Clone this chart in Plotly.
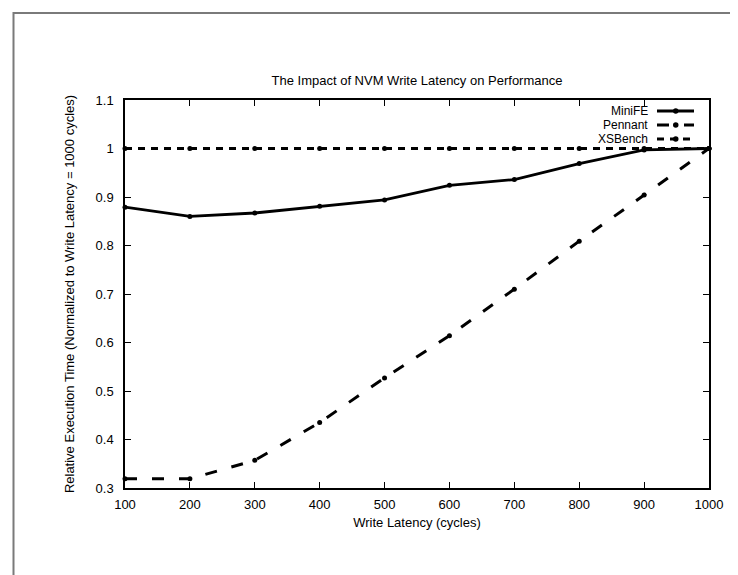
import plotly.graph_objects as go

# ---- data ----
latency = [100, 200, 300, 400, 500, 600, 700, 800, 900, 1000]
minife = [0.879, 0.860, 0.867, 0.881, 0.894, 0.924, 0.936, 0.969, 0.997, 1.000]
pennant = [0.319, 0.319, 0.357, 0.435, 0.527, 0.614, 0.710, 0.809, 0.904, 1.000]
xsbench = [1.000, 1.000, 1.000, 1.000, 1.000, 1.000, 1.000, 1.000, 1.000, 1.000]
series_names = ["MiniFE", "Pennant", "XSBench"]
y_ticks = [0.3, 0.4, 0.5, 0.6, 0.7, 0.8, 0.9, 1.0, 1.1]
y_ticktext = ["0.3", "0.4", "0.5", "0.6", "0.7", "0.8", "0.9", "1", "1.1"]
x_ticktext = [str(v) for v in latency]

FONT = "Liberation Sans, Arial, Helvetica, sans-serif"
FS = 13
W, H = 738, 575
L, R, T, B = 117, 37, 92, 95
PW, PH = W - L - R, H - T - B

dashes = ["solid", "12px,15px", "7px,6px"]
widths = [2.8, 3.0, 3.0]
series = [minife, pennant, xsbench]

fig = go.Figure()
for name, vals, dash, w in zip(series_names, series, dashes, widths):
    fig.add_trace(go.Scatter(
        x=latency, y=vals, name=name, mode="lines+markers",
        line=dict(color="black", width=w, dash=dash),
        marker=dict(color="black", size=5, symbol="circle"),
        showlegend=False, cliponaxis=False,
    ))

def px_x(p):
    return (p - L) / PW

def px_y(p):
    return (H - B - p) / PH

shapes = []
annotations = []
# outer frame (gnuplot canvas border)
shapes.append(dict(type="rect", xref="paper", yref="paper",
                   x0=px_x(5.5), x1=px_x(W + 20), y0=px_y(H + 20), y1=px_y(5),
                   line=dict(color="#7a7a7a", width=2), layer="below"))

# custom legend (text left, sample right) like gnuplot
leg_y = [103, 117, 131]
for name, yy, dash, w in zip(series_names, leg_y, dashes, widths):
    annotations.append(dict(text=name, xref="paper", yref="paper",
                            x=px_x(641), y=px_y(yy), xanchor="right", yanchor="middle",
                            height=12, borderpad=0,
                            showarrow=False, font=dict(family=FONT, size=12, color="black")))
    shapes.append(dict(type="line", xref="paper", yref="paper",
                       x0=px_x(649), x1=px_x(686), y0=px_y(yy), y1=px_y(yy),
                       line=dict(color="black", width=w, dash=dash)))
    shapes.append(dict(type="circle", xref="paper", yref="paper",
                       x0=px_x(665), x1=px_x(670.5), y0=px_y(yy + 2.75), y1=px_y(yy - 2.75),
                       fillcolor="black", line=dict(color="black", width=0)))

fig.update_layout(
    width=W, height=H, autosize=False,
    margin=dict(l=L, r=R, t=T, b=B),
    paper_bgcolor="white", plot_bgcolor="white",
    font=dict(family=FONT, size=FS, color="black"),
    title=dict(text="The Impact of NVM Write Latency on Performance",
               x=(L + PW / 2) / W, xanchor="center",
               y=1 - 72 / H, yanchor="middle", yref="container",
               font=dict(family=FONT, size=FS, color="black")),
    shapes=shapes, annotations=annotations,
    xaxis=dict(range=[100, 1000], tickvals=latency, ticktext=x_ticktext,
               ticks="inside", ticklen=6, tickwidth=1, tickcolor="black",
               showline=True, linecolor="black", linewidth=1.5, mirror="ticks",
               showgrid=False, zeroline=False, ticklabelstandoff=4,
               title=dict(text="Write Latency (cycles)", standoff=7,
                          font=dict(family=FONT, size=FS, color="black"))),
    yaxis=dict(range=[0.3, 1.1], tickvals=y_ticks, ticktext=y_ticktext,
               ticks="inside", ticklen=6, tickwidth=1, tickcolor="black",
               showline=True, linecolor="black", linewidth=1.5, mirror="ticks",
               showgrid=False, zeroline=False, ticklabelstandoff=7,
               title=dict(text="Relative Execution Time (Normalized to Write Latency = 1000 cycles)",
                          standoff=18, font=dict(family=FONT, size=FS, color="black"))),
)

fig.write_html("out.html")
